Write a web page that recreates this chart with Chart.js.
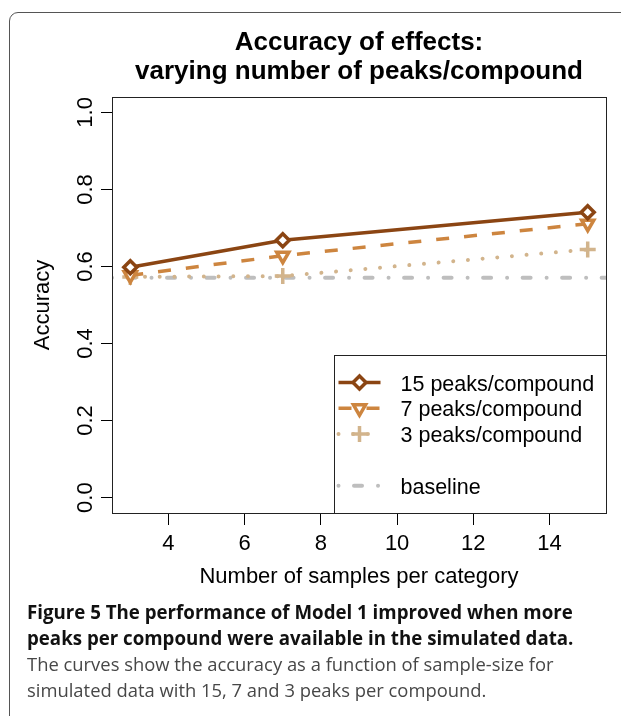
<!DOCTYPE html>
<html>
<head>
<meta charset="utf-8">
<script src="https://cdn.jsdelivr.net/npm/chart.js@4.4.1/dist/chart.umd.min.js"></script>
<style>
  html, body { margin: 0; padding: 0; background: #fff; width: 621px; height: 716px; overflow: hidden; }
  .frame { position: absolute; left: 9px; top: 12px; width: 720px; height: 800px; border: 1px solid #555; border-radius: 9px; }
  .plot { position: absolute; left: 0; top: 0; width: 621px; height: 600px; }
  .caption { position: absolute; left: 27px; top: 599px; font-family: "Open Sans", sans-serif; line-height: 26px; white-space: nowrap; }
  .caption .head { font-weight: 700; font-size: 18.7px; color: #111; }
  .caption .body { font-size: 18.4px; color: #474747; }
</style>
</head>
<body>
<div class="frame"></div>
<div class="plot"><canvas id="accuracyChart" width="621" height="600"></canvas></div>
<div class="caption">
  <div class="head">Figure 5 The performance of Model 1 improved when more</div>
  <div class="head">peaks per compound were available in the simulated data.</div>
  <div class="body">The curves show the accuracy as a function of sample-size for</div>
  <div class="body">simulated data with 15, 7 and 3 peaks per compound.</div>
</div>
<script>
// data
const samples = [3, 7, 15];
const peaks15 = [0.598, 0.668, 0.741];
const peaks7 = [0.577, 0.628, 0.711];
const peaks3 = [0.573, 0.575, 0.644];
const baselineAcc = 0.571;
const seriesLabels = ["15 peaks/compound", "7 peaks/compound", "3 peaks/compound", "baseline"];

// axes
const xRange = [2.52, 15.48];
const yRange = [-0.04, 1.04];
const xTicks = [4, 6, 8, 10, 12, 14];
const yTicks = [0, 0.2, 0.4, 0.6, 0.8, 1.0];

const toPoints = (xs, ys) => xs.map((x, i) => ({ x: x, y: ys[i] }));

Chart.defaults.font.family = '"Liberation Sans", Arial, sans-serif';
Chart.defaults.color = "#000";

// box around the plot region, like R's box()
const plotBox = {
  id: "plotBox",
  afterDatasetsDraw(chart) {
    const { ctx, chartArea: a } = chart;
    ctx.save();
    ctx.strokeStyle = "#222";
    ctx.lineWidth = 1;
    ctx.strokeRect(Math.round(a.left) + 0.5, Math.round(a.top) + 0.5,
      Math.round(a.right - a.left), Math.round(a.bottom - a.top));
    ctx.restore();
  }
};

// legend in the bottom-right corner, with a blank row before baseline
const boxLegend = {
  id: "boxLegend",
  afterDraw(chart) {
    const { ctx, chartArea: a } = chart;
    const w = 272, h = 158;
    const left = Math.round(a.right - w) + 0.5;
    const top = Math.round(a.bottom - h) + 0.5;
    ctx.save();
    ctx.fillStyle = "#fff";
    ctx.fillRect(left, top, w, h);
    ctx.strokeStyle = "#222";
    ctx.lineWidth = 1;
    ctx.strokeRect(left, top, w, h);

    chart.data.datasets.forEach((ds, i) => {
      const row = i < 3 ? i : i + 1;
      const base = top + 35 + row * 25.8;
      const cy = base - 8;
      // line sample
      ctx.save();
      ctx.strokeStyle = ds.borderColor;
      ctx.lineWidth = ds.borderWidth;
      ctx.lineCap = ds.borderCapStyle || "butt";
      ctx.setLineDash(ds.borderDash || []);
      ctx.beginPath();
      ctx.moveTo(left + 4, cy);
      ctx.lineTo(left + 46, cy);
      ctx.stroke();
      ctx.restore();
      // marker
      if (ds.pointRadius > 0) {
        ctx.save();
        ctx.setLineDash([]);
        ctx.fillStyle = ds.pointBackgroundColor || "#fff";
        ctx.strokeStyle = ds.pointBorderColor || ds.borderColor;
        ctx.lineWidth = ds.pointBorderWidth;
        Chart.helpers.drawPoint(ctx, {
          pointStyle: ds.pointStyle,
          rotation: ds.pointRotation || 0,
          radius: ds.pointRadius,
          borderWidth: ds.pointBorderWidth
        }, left + 25, cy);
        ctx.restore();
      }
      ctx.fillStyle = "#000";
      ctx.font = '21.5px "Liberation Sans", Arial, sans-serif';
      ctx.textBaseline = "alphabetic";
      ctx.fillText(ds.label, left + 66, base);
    });
    ctx.restore();
  }
};

new Chart(document.getElementById("accuracyChart"), {
  type: "line",
  data: {
    datasets: [{
      label: seriesLabels[0],
      data: toPoints(samples, peaks15),
      borderColor: "#8B4513",
      borderWidth: 3.5,
      pointStyle: "rectRot",
      pointRadius: 6.5,
      pointBorderWidth: 3.5,
      pointBackgroundColor: "#fff",
      pointBorderColor: "#8B4513"
    }, {
      label: seriesLabels[1],
      data: toPoints(samples, peaks7),
      borderColor: "#CD853F",
      borderWidth: 3.5,
      borderDash: [13, 15],
      pointStyle: "triangle",
      pointRotation: 180,
      pointRadius: 7,
      pointBorderWidth: 3.5,
      pointBackgroundColor: "#fff",
      pointBorderColor: "#CD853F"
    }, {
      label: seriesLabels[2],
      data: toPoints(samples, peaks3),
      borderColor: "#D2B48C",
      borderWidth: 4,
      borderDash: [0.01, 14.7],
      borderCapStyle: "round",
      pointStyle: "cross",
      pointRadius: 8,
      pointBorderWidth: 3.5,
      pointBackgroundColor: "#fff",
      pointBorderColor: "#D2B48C"
    }, {
      label: seriesLabels[3],
      data: toPoints(xRange, [baselineAcc, baselineAcc]),
      borderColor: "#BEBEBE",
      borderWidth: 4,
      borderDash: [0.01, 15.5, 8, 16],
      borderCapStyle: "round",
      pointRadius: 0
    }]
  },
  options: {
    responsive: false,
    animation: false,
    layout: { padding: { left: 0, right: 15, top: 0, bottom: 0 } },
    plugins: {
      legend: { display: false },
      tooltip: { enabled: false },
      title: {
        display: true,
        fullSize: false,
        text: ["Accuracy of effects:", "varying number of peaks/compound"],
        color: "#000",
        font: { size: 26, weight: "bold", lineHeight: 1.1 },
        padding: { top: 28.7, bottom: 11.1 }
      }
    },
    scales: {
      x: {
        type: "linear",
        min: xRange[0],
        max: xRange[1],
        afterBuildTicks: s => { s.ticks = xTicks.map(v => ({ value: v })); },
        afterFit: s => { s.height = 87; },
        grid: { display: true, drawOnChartArea: false, drawTicks: true, tickLength: 12, color: "#000" },
        border: { display: true, color: "#222" },
        ticks: { font: { size: 22 }, color: "#000", padding: 6, maxRotation: 0, autoSkip: false },
        title: { display: true, text: "Number of samples per category", color: "#000", font: { size: 22 }, padding: { top: 0, bottom: 9.4 } }
      },
      y: {
        type: "linear",
        min: yRange[0],
        max: yRange[1],
        afterBuildTicks: s => { s.ticks = yTicks.map(v => ({ value: v })); },
        afterFit: s => { s.width = 112; },
        grid: { display: true, drawOnChartArea: false, drawTicks: true, tickLength: 11, color: "#000" },
        border: { display: true, color: "#222" },
        ticks: {
          font: { size: 22 }, color: "#000", padding: 0,
          minRotation: 90, maxRotation: 90, crossAlign: "center", autoSkip: false,
          callback: v => v.toFixed(1)
        },
        title: { display: true, text: "Accuracy", color: "#000", font: { size: 22 }, padding: { top: 30, bottom: 0 } }
      }
    }
  },
  plugins: [plotBox, boxLegend]
});
</script>
</body>
</html>
